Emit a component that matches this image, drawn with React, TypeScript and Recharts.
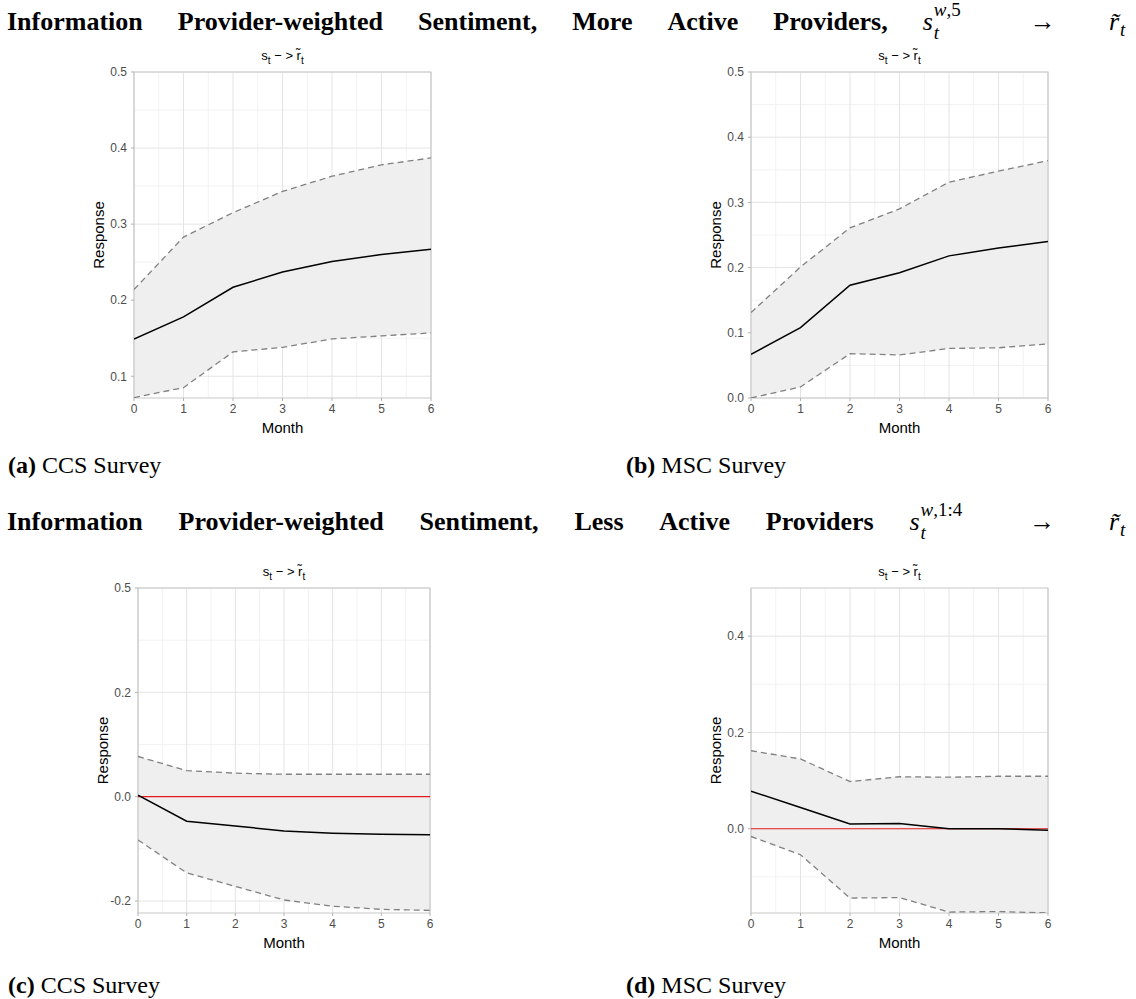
import React from "react";
import {
  Area,
  CartesianGrid,
  ComposedChart,
  Line,
  ReferenceArea,
  ReferenceLine,
  XAxis,
  YAxis,
} from "recharts";

// months after the shock
const MONTHS = [0, 1, 2, 3, 4, 5, 6];
const MONTH_MINOR = [0.5, 1.5, 2.5, 3.5, 4.5, 5.5];

// (a) CCS survey, more active providers
const CCS_MORE_EST = [0.149, 0.178, 0.217, 0.237, 0.251, 0.26, 0.267];
const CCS_MORE_LO = [0.072, 0.085, 0.132, 0.138, 0.149, 0.153, 0.157];
const CCS_MORE_HI = [0.214, 0.283, 0.315, 0.343, 0.363, 0.378, 0.387];

// (b) MSC survey, more active providers
const MSC_MORE_EST = [0.067, 0.108, 0.173, 0.192, 0.218, 0.23, 0.24];
const MSC_MORE_LO = [0.0, 0.017, 0.068, 0.066, 0.076, 0.077, 0.083];
const MSC_MORE_HI = [0.131, 0.201, 0.261, 0.29, 0.331, 0.348, 0.364];

// (c) CCS survey, less active providers
const CCS_LESS_EST = [0.003, -0.047, -0.056, -0.066, -0.07, -0.072, -0.073];
const CCS_LESS_LO = [-0.083, -0.146, -0.172, -0.198, -0.21, -0.216, -0.218];
const CCS_LESS_HI = [0.077, 0.05, 0.045, 0.043, 0.043, 0.043, 0.043];

// (d) MSC survey, less active providers
const MSC_LESS_EST = [0.078, 0.044, 0.01, 0.011, 0.0, 0.0, -0.003];
const MSC_LESS_LO = [-0.016, -0.054, -0.144, -0.143, -0.173, -0.172, -0.175];
const MSC_LESS_HI = [0.162, 0.145, 0.098, 0.108, 0.107, 0.109, 0.109];

// y axes
const A_TICKS = [0.1, 0.2, 0.3, 0.4, 0.5];
const A_LABELS = ["0.1", "0.2", "0.3", "0.4", "0.5"];
const A_MINOR = [0.15, 0.25, 0.35, 0.45];
const B_TICKS = [0, 0.1, 0.2, 0.3, 0.4, 0.5];
const B_LABELS = ["0.0", "0.1", "0.2", "0.3", "0.4", "0.5"];
const B_MINOR = [0.05, 0.15, 0.25, 0.35, 0.45];
const C_TICKS = [-0.2, 0, 0.2, 0.4];
const C_LABELS = ["-0.2", "0.0", "0.2", "0.5"];
const C_MINOR = [-0.1, 0.1, 0.3];
const D_TICKS = [0, 0.2, 0.4];
const D_LABELS = ["0.0", "0.2", "0.4"];
const D_MINOR = [-0.1, 0.1, 0.3];

const SANS = '"Liberation Sans", Arial, sans-serif';
const SERIF = '"Liberation Serif", "Times New Roman", serif';

type PanelProps = {
  left: number;
  top: number;
  w: number;
  h: number;
  est: number[];
  lo: number[];
  hi: number[];
  domain: [number, number];
  ticks: number[];
  labels: string[];
  minor: number[];
  zeroLine?: boolean;
};

function yLabel(props: any) {
  const vb = props.viewBox;
  const x = vb.x + 24;
  const y = vb.y + vb.height / 2;
  return (
    <text
      x={x}
      y={y}
      transform={`rotate(-90 ${x} ${y})`}
      textAnchor="middle"
      dominantBaseline="central"
      fontSize={15}
      fontFamily={SANS}
      fill="#000"
    >
      Response
    </text>
  );
}

function Panel(p: PanelProps) {
  const data = MONTHS.map((m, i) => ({
    m,
    est: p.est[i],
    lo: p.lo[i],
    hi: p.hi[i],
    band: [p.lo[i], p.hi[i]],
  }));
  const padL = 60;
  const padT = 10;
  const padR = 12;
  const padB = 42;

  return (
    <div style={{ position: "absolute", left: p.left - padL, top: p.top - padT }}>
      <div
        style={{
          position: "absolute",
          left: padL,
          width: p.w,
          top: padT - 24,
          textAlign: "center",
          fontFamily: SANS,
          fontSize: 13,
          lineHeight: "16px",
          color: "#000",
          whiteSpace: "nowrap",
        }}
      >
        s<sub style={{ fontSize: 10 }}>t</sub>
        {" \u2212 > "}
        r&#771;<sub style={{ fontSize: 10 }}>t</sub>
      </div>
      <ComposedChart
        width={p.w + padL + padR}
        height={p.h + padT + padB}
        data={data}
        margin={{ top: padT, right: padR, left: 0, bottom: 0 }}
      >
        <CartesianGrid
          stroke="#f2f2f2"
          strokeWidth={1}
          horizontalValues={p.minor}
          verticalValues={MONTH_MINOR}
        />
        <CartesianGrid
          stroke="#e4e4e4"
          strokeWidth={1}
          horizontalValues={p.ticks}
          verticalValues={MONTHS}
        />
        <XAxis
          type="number"
          dataKey="m"
          domain={[0, 6]}
          ticks={MONTHS}
          allowDataOverflow
          height={padB}
          axisLine={false}
          tickSize={3}
          tickMargin={3}
          tickLine={{ stroke: "#b3b3b3" }}
          tick={{ fontSize: 12, fill: "#4d4d4d", fontFamily: SANS }}
          label={{
            value: "Month",
            position: "insideBottom",
            offset: 7,
            fontSize: 15,
            fill: "#000",
            fontFamily: SANS,
          }}
        />
        <YAxis
          type="number"
          domain={p.domain}
          ticks={p.ticks}
          allowDataOverflow
          width={padL}
          axisLine={false}
          tickSize={3}
          tickMargin={4}
          tickLine={{ stroke: "#b3b3b3" }}
          tick={{ fontSize: 12, fill: "#4d4d4d", fontFamily: SANS }}
          tickFormatter={(v: number) => p.labels[p.ticks.indexOf(v)] ?? String(v)}
          label={yLabel}
        />
        <Area
          type="linear"
          dataKey="band"
          fill="#efefef"
          fillOpacity={1}
          stroke="none"
          activeDot={false}
          isAnimationActive={false}
        />
        {p.zeroLine && <ReferenceLine y={0} stroke="#e41a1c" strokeWidth={1.2} />}
        <Line
          type="linear"
          dataKey="hi"
          stroke="#808080"
          strokeWidth={1.3}
          strokeDasharray="6 4"
          dot={false}
          activeDot={false}
          isAnimationActive={false}
        />
        <Line
          type="linear"
          dataKey="lo"
          stroke="#808080"
          strokeWidth={1.3}
          strokeDasharray="6 4"
          dot={false}
          activeDot={false}
          isAnimationActive={false}
        />
        <Line
          type="linear"
          dataKey="est"
          stroke="#000"
          strokeWidth={1.5}
          dot={false}
          activeDot={false}
          isAnimationActive={false}
        />
        <ReferenceArea
          x1={0}
          x2={6}
          y1={p.domain[0]}
          y2={p.domain[1]}
          fill="none"
          stroke="#c8c8c8"
          strokeWidth={1.2}
        />
      </ComposedChart>
    </div>
  );
}

function MathSym({ sup, width }: { sup: string; width: number }) {
  return (
    <span style={{ position: "relative", display: "inline-block", fontWeight: 400, width }}>
      <i>s</i>
      <span style={{ position: "absolute", left: 11, top: -12, fontSize: 19, whiteSpace: "nowrap" }}>
        <i>w</i>,{sup}
      </span>
      <span style={{ position: "absolute", left: 11, top: 11, fontSize: 19 }}>
        <i>t</i>
      </span>
    </span>
  );
}

function RTilde() {
  return (
    <span style={{ fontWeight: 400, position: "relative", display: "inline-block", width: 22 }}>
      <i>r&#771;</i>
      <span style={{ position: "absolute", left: 11, top: 8, fontSize: 19 }}>
        <i>t</i>
      </span>
    </span>
  );
}

function Header({ top, words, sup, symWidth }: { top: number; words: string[]; sup: string; symWidth: number }) {
  return (
    <div
      style={{
        position: "absolute",
        left: 7,
        width: 1124,
        top,
        display: "flex",
        justifyContent: "space-between",
        alignItems: "baseline",
        fontFamily: SERIF,
        fontWeight: 700,
        fontSize: 26,
        lineHeight: "30px",
        color: "#000",
        whiteSpace: "nowrap",
      }}
    >
      {words.map((w) => (
        <span key={w}>{w}</span>
      ))}
      <MathSym sup={sup} width={symWidth} />
      <span style={{ fontWeight: 400, display: "inline-block", width: 44 }}>{"\u2192"}</span>
      <RTilde />
    </div>
  );
}

function Caption({ left, top, tag, text }: { left: number; top: number; tag: string; text: string }) {
  return (
    <div
      style={{
        position: "absolute",
        left,
        top,
        fontFamily: SERIF,
        fontSize: 24,
        lineHeight: "28px",
        color: "#000",
        whiteSpace: "nowrap",
      }}
    >
      <b>{tag}</b> {text}
    </div>
  );
}

export default function App() {
  return (
    <div
      style={{
        position: "absolute",
        left: 0,
        top: 0,
        width: 1136,
        height: 999,
        background: "#fff",
        overflow: "hidden",
      }}
    >
      <Header
        top={7}
        words={["Information", "Provider-weighted", "Sentiment,", "More", "Active", "Providers,"]}
        sup="5"
        symWidth={72}
      />
      <Panel left={134} top={72} w={297} h={326} est={CCS_MORE_EST} lo={CCS_MORE_LO} hi={CCS_MORE_HI}
        domain={[0.0714, 0.5]} ticks={A_TICKS} labels={A_LABELS} minor={A_MINOR} />
      <Panel left={751} top={72} w={297} h={326} est={MSC_MORE_EST} lo={MSC_MORE_LO} hi={MSC_MORE_HI}
        domain={[0, 0.5]} ticks={B_TICKS} labels={B_LABELS} minor={B_MINOR} />
      <Caption left={8} top={451} tag="(a)" text="CCS Survey" />
      <Caption left={626} top={451} tag="(b)" text="MSC Survey" />

      <Header
        top={507}
        words={["Information", "Provider-weighted", "Sentiment,", "Less", "Active", "Providers"]}
        sup="1:4"
        symWidth={84}
      />
      <Panel left={138} top={588} w={292} h={325} est={CCS_LESS_EST} lo={CCS_LESS_LO} hi={CCS_LESS_HI}
        domain={[-0.223, 0.4]} ticks={C_TICKS} labels={C_LABELS} minor={C_MINOR} zeroLine />
      <Panel left={751} top={588} w={297} h={325} est={MSC_LESS_EST} lo={MSC_LESS_LO} hi={MSC_LESS_HI}
        domain={[-0.175, 0.5]} ticks={D_TICKS} labels={D_LABELS} minor={D_MINOR} zeroLine />
      <Caption left={8} top={971} tag="(c)" text="CCS Survey" />
      <Caption left={626} top={971} tag="(d)" text="MSC Survey" />
    </div>
  );
}
